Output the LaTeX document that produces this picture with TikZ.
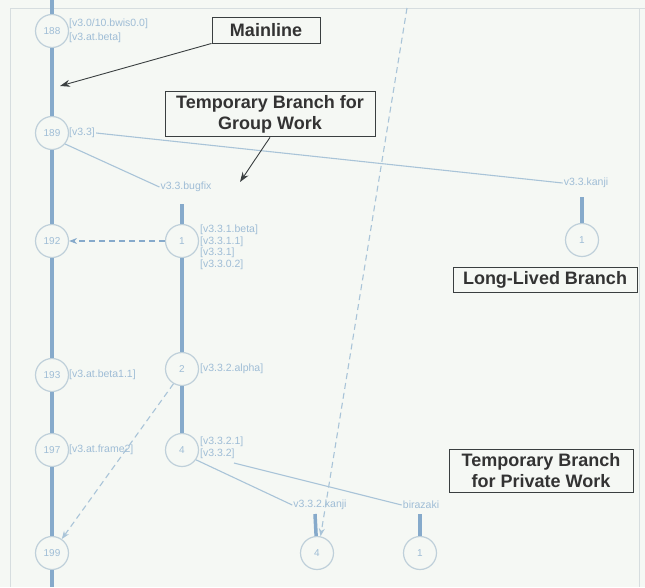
\documentclass[tikz,border=0pt]{standalone}
\usepackage{fontspec}
\setmainfont{Liberation Sans}
\usetikzlibrary{arrows.meta}
\definecolor{bg}{HTML}{F5F8F4}
\definecolor{trunkc}{HTML}{86AACB}
\definecolor{circc}{HTML}{BFD0DA}
\definecolor{labc}{HTML}{9FBDD6}
\definecolor{thinc}{HTML}{A9C4D8}
\definecolor{framec}{HTML}{D6DDDF}
\definecolor{callc}{HTML}{3A3F40}
\tikzset{
  ver/.style={circle, draw=circc, line width=1.2pt, minimum size=33pt, inner sep=0pt, text=labc, font=\fontsize{10}{11}\selectfont},
  lab/.style={text=labc, font=\fontsize{10.5}{12.5}\selectfont, inner sep=1pt, align=left},
  trunk/.style={draw=trunkc, line width=3.5pt},
  thinb/.style={draw=thinc, line width=1.1pt},
  dashb/.style={draw=thinc, line width=1.1pt, dash pattern=on 6pt off 4pt},
  callout/.style={draw=callc, line width=0.9pt, fill=bg, text=black!80, font=\fontsize{18}{21}\selectfont, align=center, inner xsep=8pt, inner ysep=4pt},
  callarrow/.style={draw=callc, line width=0.9pt, -{Stealth[length=10pt,width=7pt]}},
}
\begin{document}
\begin{tikzpicture}[x=1pt,y=-1pt]
\fill[bg] (0,0) rectangle (645,587);
\useasboundingbox (0,0) rectangle (645,587);
% frame
\coordinate (f1) at (10,587);
\coordinate (f2) at (10,8);
\coordinate (f3) at (645,8);
\coordinate (f4) at (639,8);
\coordinate (f5) at (639,587);
\draw[framec, line width=1pt] (f1) -- (f2) -- (f3);
\draw[framec, line width=1pt] (f4) -- (f5);

% mainline
\node[ver] (c188) at (52,31) {188};
\node[ver] (c189) at (52,133) {189};
\node[ver] (c192) at (52,241) {192};
\node[ver] (c193) at (52,375) {193};
\node[ver] (c197) at (52,450) {197};
\node[ver] (c199) at (52,553) {199};
\coordinate (mtop) at (52,0);
\coordinate (mbot) at (52,587);
\draw[trunk] (mtop) -- (c188);
\draw[trunk] (c188) -- (c189);
\draw[trunk] (c189) -- (c192);
\draw[trunk] (c192) -- (c193);
\draw[trunk] (c193) -- (c197);
\draw[trunk] (c197) -- (c199);
\draw[trunk] (c199) -- (mbot);

\node[lab, anchor=west] (l188) at (68,31) {[v3.0/10.bwis0.0]\\[2pt][v3.at.beta]};
\node[lab, anchor=west] (l189) at (68,133) {[v3.3]};
\node[lab, anchor=west] (l193) at (68,375) {[v3.at.beta1.1]};
\node[lab, anchor=west] (l197) at (68,450) {[v3.at.frame2]};

% bugfix branch
\node[lab] (bugfix) at (186,187) {v3.3.bugfix};
\coordinate (bftop) at (182,204);
\node[ver] (b1) at (182,241) {1};
\node[ver] (b2) at (182,369) {2};
\node[ver] (b4) at (182,450) {4};
\draw[trunk] (bftop) -- (b1);
\draw[trunk] (b1) -- (b2);
\draw[trunk] (b2) -- (b4);
\node[lab, anchor=north west] (lb1) at (199,224) {[v3.3.1.beta]\\[-1pt][v3.3.1.1]\\[-1pt][v3.3.1]\\[-1pt][v3.3.0.2]};
\node[lab, anchor=west] (lb2) at (199,369) {[v3.3.2.alpha]};
\node[lab, anchor=north west] (lb4) at (199,436) {[v3.3.2.1]\\[-1pt][v3.3.2]};
\draw[thinb] (c189.-40) -- (bugfix.west);

% kanji branch
\node[lab] (kanji) at (586,183) {v3.3.kanji};
\coordinate (kjtop) at (582,197);
\node[ver] (k1) at (582,240) {1};
\draw[trunk] (kjtop) -- (k1);
\draw[thinb] (l189.east) -- (kanji.west);

% private branches
\node[lab] (pkanji) at (320,505) {v3.3.2.kanji};
\node[lab] (biraz) at (421,505) {birazaki};
\node[ver] (p4) at (317,553) {4};
\node[ver] (p1) at (420,553) {1};
\coordinate (pktop) at (315,514);
\coordinate (bztop) at (420,514);
\draw[trunk] (pktop) -- (p4);
\draw[trunk] (bztop) -- (p1);
\draw[thinb] (b4.-35) -- (pkanji.west);
\coordinate (b4r) at (234,463);
\draw[thinb] (b4r) -- (biraz.west);

% merges
\draw[dashb, -{Stealth[length=8pt,width=6pt]}, trunkc] (b1.west) -- (c192.east);
\draw[dashb, -{Stealth[length=8pt,width=6pt]}] (b2.-120) -- (c199.55);
\coordinate (dtop) at (407,8);
\draw[dashb, -{Stealth[length=8pt,width=6pt]}] (dtop) -- (p4.78);

% callouts
\node[callout, minimum width=108pt, minimum height=26pt] (mainline) at (266,30) {\textbf{Mainline}};
\node[callout, minimum width=210pt] (tbgw) at (270,114) {\textbf{Temporary Branch for}\\\textbf{Group Work}};
\node[callout, minimum width=184pt] (llb) at (545,280) {\textbf{Long-Lived Branch}};
\node[callout, minimum width=184pt] (tbpw) at (541,471) {\textbf{Temporary Branch}\\\textbf{for Private Work}};
\coordinate (mlend) at (60,86);
\coordinate (gwend) at (240,182);
\draw[callarrow] (mainline.south west) -- (mlend);
\draw[callarrow] (tbgw.south) -- (gwend);
\end{tikzpicture}
\end{document}
